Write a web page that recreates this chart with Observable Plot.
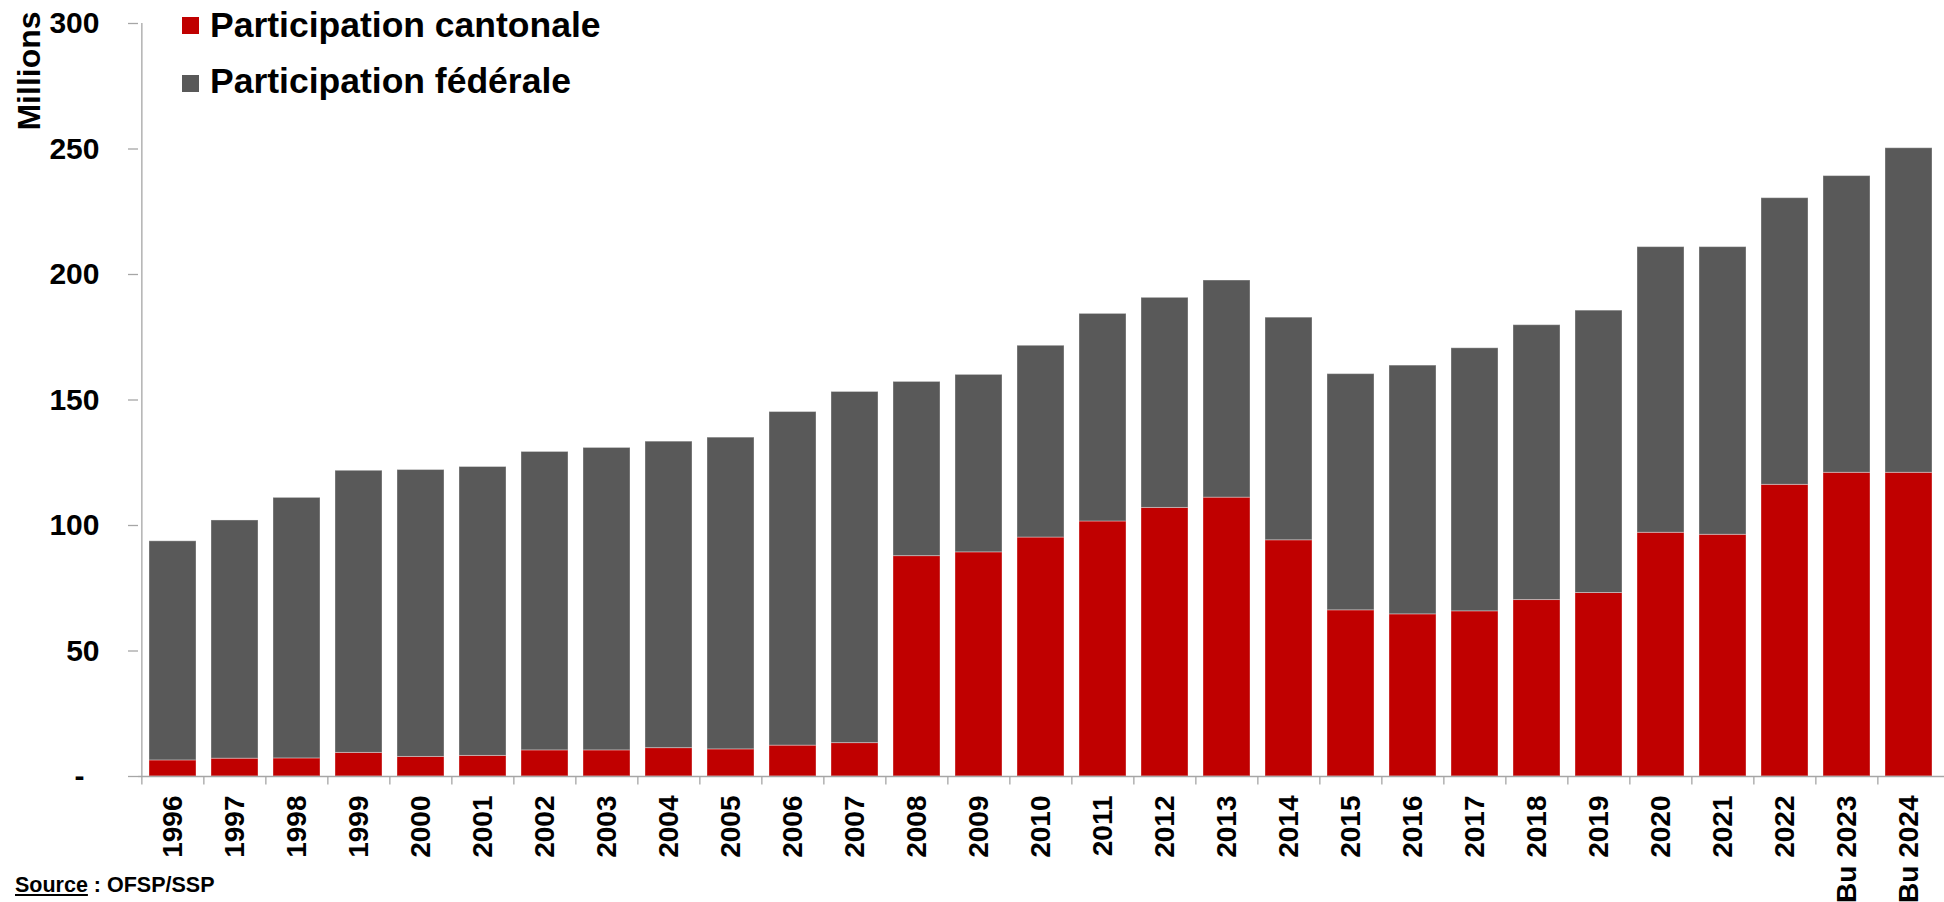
<!DOCTYPE html>
<html>
<head>
<meta charset="utf-8">
<script src="https://cdn.jsdelivr.net/npm/d3@7"></script>
<script src="https://cdn.jsdelivr.net/npm/@observablehq/plot@0.6"></script>
<style>
  html, body { margin: 0; padding: 0; background: #fff; }
  #wrap { position: relative; width: 1944px; height: 902px; overflow: hidden; font-family: "Liberation Sans", Arial, sans-serif; font-weight: bold; color: #000; }
  #chart { position: absolute; left: 0; top: 0; }
  .leg { position: absolute; left: 182px; font-size: 35.5px; line-height: 1; white-space: nowrap; }
  .leg .sw { position: absolute; left: 0; width: 17px; height: 17px; }
  .leg .tx { position: absolute; left: 28px; top: 0; }
  #ylab { position: absolute; left: 29px; top: 71px; font-size: 32px; line-height: 1; white-space: nowrap; transform: translate(-50%, -50%) rotate(-90deg); }
  #source { position: absolute; left: 15px; top: 875px; font-size: 21.5px; line-height: 1; white-space: nowrap; }
  #source u { text-decoration: underline; }
</style>
</head>
<body>
<div id="wrap">
  <div id="chart"></div>
  <div id="ylab">Millions</div>
  <div id="legend"></div>
  <div id="source"><u>Source</u> : OFSP/SSP</div>
</div>
<script>
// ---- Data (millions) ----
const years = ["1996","1997","1998","1999","2000","2001","2002","2003","2004","2005","2006","2007","2008","2009","2010","2011","2012","2013","2014","2015","2016","2017","2018","2019","2020","2021","2022","Bu 2023","Bu 2024"];
const cantonal = [6.4, 7.1, 7.2, 9.4, 7.8, 8.2, 10.4, 10.4, 11.3, 10.8, 12.3, 13.3, 87.8, 89.3, 95.2, 101.6, 107.0, 111.1, 94.1, 66.2, 64.6, 65.8, 70.3, 73.1, 97.1, 96.3, 116.2, 121.0, 121.0];
const federal  = [87.3, 94.9, 103.8, 112.4, 114.3, 115.1, 118.9, 120.5, 122.1, 124.2, 132.9, 139.9, 69.4, 70.7, 76.4, 82.7, 83.7, 86.5, 88.7, 94.1, 99.1, 104.8, 109.5, 112.5, 113.8, 114.6, 114.2, 118.2, 129.3];
const seriesNames = ["Participation cantonale", "Participation fédérale"];
const seriesColors = ["#C00000", "#595959"];
const yTicks = [0, 50, 100, 150, 200, 250, 300];

// table built from the arrays
const rows = [];
years.forEach((y, i) => {
  rows.push({year: y, series: seriesNames[0], value: cantonal[i]});
  rows.push({year: y, series: seriesNames[1], value: federal[i]});
});

const W = 1944, H = 902, ML = 138, MR = 0, MT = 23, MB = 126;
const step = (W - ML - MR) / years.length;
const axisGray = "#a6a6a6";

const chart = Plot.plot({
  width: W,
  height: H,
  marginLeft: ML,
  marginRight: MR,
  marginTop: MT,
  marginBottom: MB,
  style: {fontFamily: "'Liberation Sans', Arial, sans-serif", fontWeight: "bold", background: "transparent", color: "#000"},
  x: {type: "band", domain: years, paddingInner: 0.235, paddingOuter: 0.1175, align: 0.5, axis: null},
  y: {domain: [0, 300], axis: null},
  color: {domain: seriesNames, range: seriesColors},
  marks: [
    Plot.barY(rows, {x: "year", y: "value", fill: "series", order: seriesNames, stroke: "white", strokeOpacity: 0.35, strokeWidth: 1}),
    // axis lines
    Plot.ruleY([0], {stroke: axisGray, strokeWidth: 1.3}),
    Plot.ruleX([years[0]], {y1: 0, y2: 300, dx: -step / 2, stroke: axisGray, strokeWidth: 1.3}),
    // category boundary ticks
    Plot.ruleX(years, {x: d => d, y1: 0, y2: -3.4, dx: -step / 2, stroke: axisGray, strokeWidth: 1.3}),
    Plot.axisY({
      ticks: yTicks,
      tickSize: 10,
      tickPadding: 29,
      tickFormat: d => d === 0 ? "-\u2002" : String(d),
      stroke: axisGray,
      strokeWidth: 1.3,
      fill: "#000",
      fontSize: 30,
      fontWeight: "bold",
      label: null
    }),
    Plot.axisX({
      tickSize: 0,
      tickPadding: 19,
      tickRotate: -90,
      fill: "#000",
      fontSize: 28,
      fontWeight: "bold",
      label: null
    })
  ]
});
document.getElementById("chart").appendChild(chart);

// legend
const leg = document.getElementById("legend");
const legTops = [8, 64];
seriesNames.forEach((name, i) => {
  const d = document.createElement("div");
  d.className = "leg";
  d.style.top = legTops[i] + "px";
  d.innerHTML = `<span class="sw" style="background:${seriesColors[i]};top:${i === 0 ? 9 : 11}px"></span><span class="tx">${name}</span>`;
  leg.appendChild(d);
});
</script>
</body>
</html>
